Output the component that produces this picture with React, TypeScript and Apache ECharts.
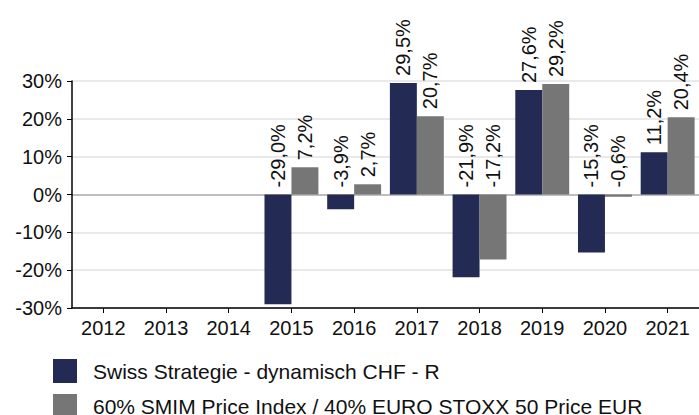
import React, { useEffect, useRef } from "react";
import * as echarts from "echarts";

const categories = ["2012", "2013", "2014", "2015", "2016", "2017", "2018", "2019", "2020", "2021"];
const fundName = "Swiss Strategie - dynamisch CHF - R";
const benchName = "60% SMIM Price Index / 40% EURO STOXX 50 Price EUR";
const fundValues: (number | null)[] = [null, null, null, -29.0, -3.9, 29.5, -21.9, 27.6, -15.3, 11.2];
const benchValues: (number | null)[] = [null, null, null, 7.2, 2.7, 20.7, -17.2, 29.2, -0.6, 20.4];

const FONT = "'Liberation Sans', Arial, sans-serif";

export default function App() {
  const ref = useRef<HTMLDivElement>(null);
  useEffect(() => {
    if (!ref.current) return;
    const chart = echarts.init(ref.current, undefined, { renderer: "svg" });
    const label = {
      show: true,
      position: "top" as const,
      rotate: 90,
      align: "left" as const,
      verticalAlign: "middle" as const,
      distance: 7,
      fontSize: 20,
      fontFamily: FONT,
      color: "#111",
      formatter: (p: any) => p.value.toFixed(1).replace(".", ",") + "%",
    };
    const legendBase = {
      left: 53,
      itemWidth: 24,
      itemHeight: 24,
      icon: "rect",
      padding: 0,
    };
    chart.setOption({
      animation: false,
      textStyle: { fontFamily: FONT },
      grid: { left: 72, right: 0, top: 81, bottom: 107 },
      legend: [
        {
          ...legendBase,
          top: 359,
          data: [fundName],
          textStyle: { fontSize: 21, fontFamily: FONT, color: "#111", padding: [2, 0, 0, 11] },
        },
        {
          ...legendBase,
          top: 394,
          data: [benchName],
          textStyle: { fontSize: 21, fontFamily: FONT, color: "#111", padding: [0, 0, 8, 11] },
        },
      ],
      xAxis: {
        type: "category",
        data: categories,
        axisLine: { onZero: false, lineStyle: { color: "#000", width: 1.5 } },
        axisTick: { show: true, alignWithLabel: true, length: 5, lineStyle: { color: "#000" } },
        axisLabel: { fontSize: 20, color: "#111", margin: 10, fontFamily: FONT },
      },
      yAxis: {
        type: "value",
        min: -30,
        max: 30,
        interval: 10,
        axisLine: { show: true, lineStyle: { color: "#000", width: 1.5 } },
        axisTick: { show: true, length: 5, lineStyle: { color: "#000" } },
        axisLabel: { fontSize: 20, color: "#111", margin: 10, fontFamily: FONT, formatter: "{value}%" },
        splitLine: {
          lineStyle: {
            color: ["#e2e2e2", "#e2e2e2", "#e2e2e2", "#a8a8a8", "#e2e2e2", "#e2e2e2", "#e2e2e2"],
            width: 1.5,
          },
        },
      },
      series: [
        {
          name: fundName,
          type: "bar",
          data: fundValues,
          itemStyle: { color: "#232a53" },
          barGap: "0%",
          barCategoryGap: "14%",
          label,
        },
        {
          name: benchName,
          type: "bar",
          data: benchValues,
          itemStyle: { color: "#767676" },
          barGap: "0%",
          barCategoryGap: "14%",
          label,
        },
      ],
    });
    return () => chart.dispose();
  }, []);
  return <div ref={ref} style={{ width: 699, height: 415, position: "absolute", left: 0, top: 0 }} />;
}
